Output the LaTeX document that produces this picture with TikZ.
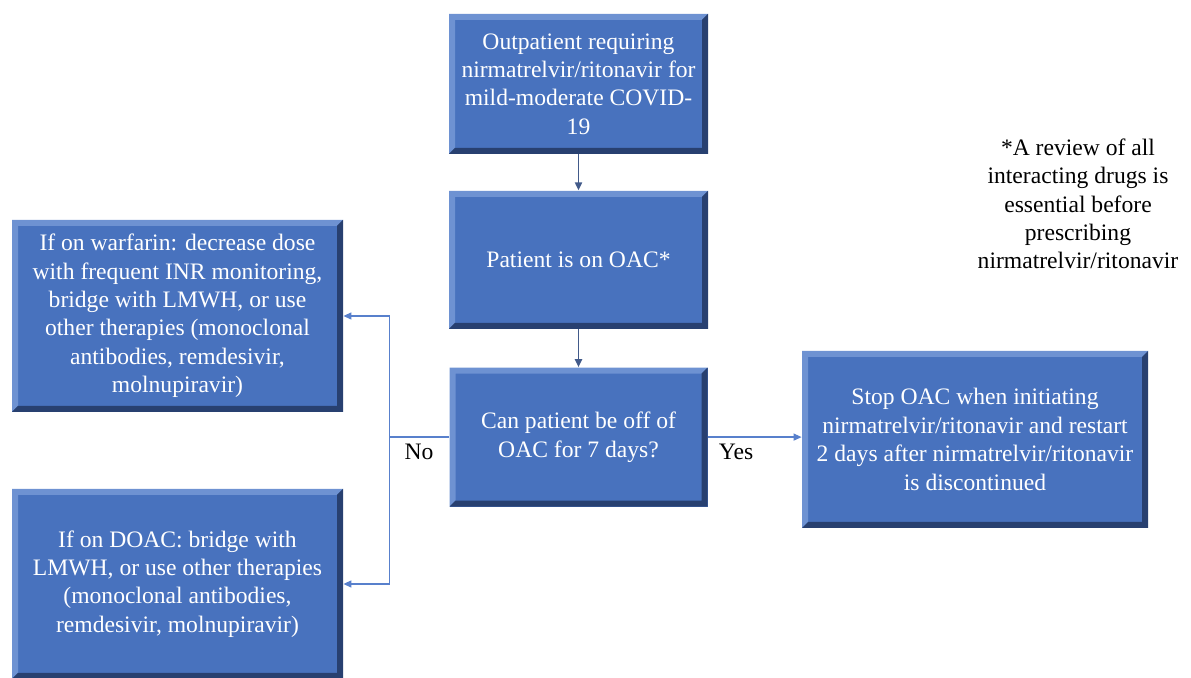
\documentclass[tikz,border=0pt]{standalone}
\usepackage{fontspec}
\setmainfont{Liberation Serif}
\usetikzlibrary{arrows.meta,positioning}
\definecolor{boxblue}{RGB}{72,114,190}
\definecolor{bevdark}{RGB}{40,64,112}
\definecolor{bevlight}{RGB}{110,146,210}
\definecolor{linkblue}{RGB}{88,128,204}
\definecolor{linkdark}{RGB}{66,90,138}

\begin{document}
\begin{tikzpicture}[
  x=0.5pt, y=-0.5pt,
  node distance=18pt,
  box/.style={rectangle, fill=boxblue, text=white, align=center, inner sep=0pt,
    font=\fontsize{11.8}{14.2}\selectfont,
    path picture={
      \fill[bevlight] (path picture bounding box.south west) -- (path picture bounding box.north west)
        -- (path picture bounding box.north east) -- ([shift={(-3pt,-3pt)}]path picture bounding box.north east)
        -- ([shift={(3pt,-3pt)}]path picture bounding box.north west) -- ([shift={(3pt,3pt)}]path picture bounding box.south west) -- cycle;
      \fill[bevdark] (path picture bounding box.south west) -- (path picture bounding box.south east)
        -- (path picture bounding box.north east) -- ([shift={(-3pt,-3pt)}]path picture bounding box.north east)
        -- ([shift={(-3pt,3pt)}]path picture bounding box.south east) -- ([shift={(3pt,3pt)}]path picture bounding box.south west) -- cycle;
    }},
  lbl/.style={font=\fontsize{11.8}{14.2}\selectfont, inner sep=1pt},
  arr/.style={draw=linkdark, line width=0.9pt, -{Triangle[length=4pt,width=3.5pt]}},
  arrlight/.style={draw=linkblue, line width=0.6pt, -{Triangle[length=4pt,width=3.5pt]}}
]
\useasboundingbox (0,0) rectangle (1191,678);

% Main column
\node[box, minimum width=129.5pt, minimum height=70pt] (start) at (578.5,84)
  {Outpatient requiring\\nirmatrelvir/ritonavir for\\mild-moderate COVID-\\19};
\node[box, minimum width=129.5pt, minimum height=69pt, below=18pt of start] (onoac) {Patient is on OAC*};
\node[box, minimum width=129pt, minimum height=69.5pt, below=19pt of onoac] (offoac)
  {Can patient be off of\\OAC for 7 days?};

\draw[arr] (start) -- (onoac);
\draw[arr] (onoac) -- (offoac);

% Yes branch
\node[box, minimum width=173pt, minimum height=88.5pt] (stopoac) at (975,439.5)
  {Stop OAC when initiating\\nirmatrelvir/ritonavir and restart\\2 days after nirmatrelvir/ritonavir\\is discontinued};
\draw[arrlight] (offoac.east) -- node[lbl, pos=0.3, below=2pt] (yes) {Yes} (offoac.east -| stopoac.west);

% No branch
\node[box, minimum width=165.5pt, minimum height=96pt] (warfarin) at (177.5,316)
  {If on warfarin: decrease dose\\with frequent INR monitoring,\\bridge with LMWH, or use\\other therapies (monoclonal\\antibodies, remdesivir,\\molnupiravir)};
\node[box, minimum width=165.5pt, minimum height=95pt] (doac) at (177.5,584)
  {If on DOAC: bridge with\\LMWH, or use other therapies\\(monoclonal antibodies,\\remdesivir, molnupiravir)};
\coordinate (split) at ([xshift=-30pt]offoac.west);

\draw[draw=linkblue, line width=0.6pt] (offoac.west) -- node[lbl, below=2pt] (no) {No} (split);
\draw[arrlight] (split) |- (warfarin.east);
\draw[arrlight] (split) |- (doac.east);

% Note
\node[lbl, align=center] (note) at (1078,204)
  {*A review of all\\interacting drugs is\\essential before\\prescribing\\nirmatrelvir/ritonavir};

\end{tikzpicture}
\end{document}
